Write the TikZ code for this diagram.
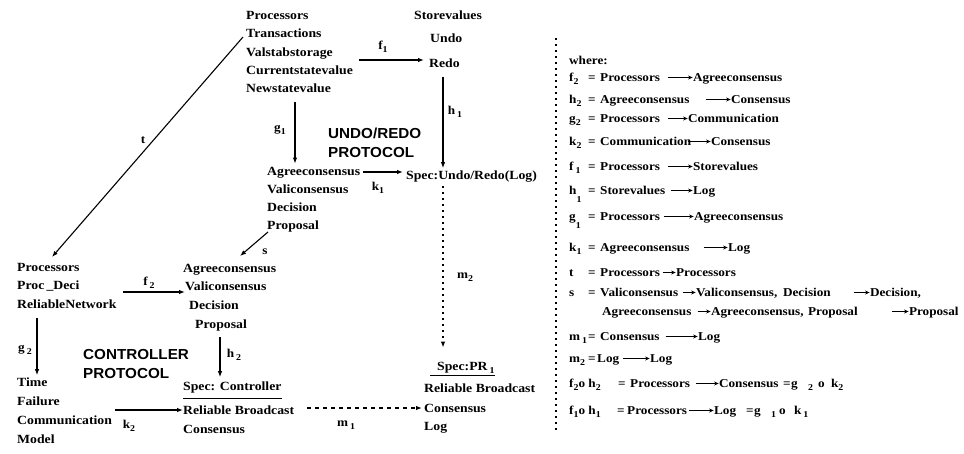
\documentclass[tikz,border=0pt]{standalone}
\usepackage{fontspec}
\setmainfont[FakeStretch=1.1]{Liberation Serif}
\newfontfamily\capsans[FakeStretch=1.05]{Liberation Sans}
\usetikzlibrary{arrows.meta}

% lowered index digits and inline mapping arrows
\newcommand{\sub}[1]{\raisebox{-3pt}{\fontsize{9}{9}\selectfont #1}}
\newcommand{\sublow}[1]{\raisebox{-8pt}{\fontsize{9}{9}\selectfont #1}}
\newcommand{\arr}[1]{\tikz[baseline=-3.5pt]\draw[line width=0.9pt,-{Stealth[length=4.5pt,width=4pt]}](0pt,0pt)--(#1pt,0pt);}
\newcommand{\bx}[2]{\makebox[#1pt][l]{#2}}

\begin{document}
\begin{tikzpicture}[x=1pt,y=-1pt,
  lbl/.style={anchor=base west,inner sep=0pt,font=\fontsize{12.5}{15}\selectfont\bfseries},
  eq/.style={anchor=base west,inner sep=0pt,font=\fontsize{12}{14}\selectfont\bfseries},
  proto/.style={anchor=base west,inner sep=0pt,font=\capsans\fontsize{14.5}{17}\selectfont\bfseries},
  tag/.style={anchor=center,inner sep=0pt,font=\fontsize{12}{14}\selectfont\bfseries},
  arr/.style={line width=1.1pt,-{Latex[length=6pt,width=4.5pt]}},
  dotarr/.style={arr,dash pattern=on 1.5pt off 4.5pt},
  dasharr/.style={arr,dash pattern=on 4pt off 4pt},
  sep/.style={line width=1.6pt,dash pattern=on 1.6pt off 4.4pt}]

\fill[white] (0,0) rectangle (964,453);
\useasboundingbox (0,0) rectangle (964,453);

% ---------- undo/redo protocol ----------
\node[lbl] (tP) at (246,19) {Processors};
\node[lbl] (tT) at (246,37) {Transactions};
\node[lbl] (tV) at (246,56) {Valstabstorage};
\node[lbl] (tC) at (246,74) {Currentstatevalue};
\node[lbl] (tN) at (246,92) {Newstatevalue};

\node[lbl] (sS) at (414,19) {Storevalues};
\node[lbl] (sU) at (430,42) {Undo};
\node[lbl] (sR) at (429,67) {Redo};

\node[lbl] (uA) at (267,175) {Agreeconsensus};
\node[lbl] (uV) at (267,193) {Valiconsensus};
\node[lbl] (uD) at (267,211) {Decision};
\node[lbl] (uP) at (267,229) {Proposal};

\node[lbl] (spU) at (406,179) {Spec:Undo/Redo(Log)};

\node[proto] (ur1) at (328,138) {UNDO/REDO};
\node[proto] (ur2) at (328,157) {PROTOCOL};

\coordinate (f1s) at (359,60);
\draw[arr,shorten >=5pt] (f1s) -- (f1s -| sR.west);
\node[tag] (lf1) at (383,47) {f\sub1};

\coordinate (g1s) at (295,102);
\draw[arr,shorten >=3pt] (g1s) -- (g1s |- uA.north);
\node[tag] (lg1) at (280,130) {g\sub1};

\coordinate (h1s) at (443,77);
\draw[arr,shorten >=2pt] (h1s) -- (h1s |- spU.north);
\node[tag] (lh1) at (455,112) {h\,\sub1};

\coordinate (k1s) at (363,172);
\draw[arr,shorten >=3pt] (k1s) -- (k1s -| spU.west);
\node[tag] (lk1) at (378,188) {k\sub1};

% ---------- controller protocol ----------
\node[lbl] (lP) at (17,271) {Processors};
\node[lbl] (lD) at (17,289) {Proc\,\_Deci};
\node[lbl] (lR) at (17,308) {ReliableNetwork};

\node[lbl] (mA) at (183,272) {Agreeconsensus};
\node[lbl] (mV) at (185,290) {Valiconsensus};
\node[lbl] (mD) at (189,309) {Decision};
\node[lbl] (mP) at (195,328) {Proposal};

\node[lbl] (bT) at (17,386) {Time};
\node[lbl] (bF) at (17,405) {Failure};
\node[lbl] (bC) at (17,424) {Communication};
\node[lbl] (bM) at (17,443) {Model};

\node[lbl] (sc) at (183,390) {Spec: Controller};
\draw[line width=1pt] ([yshift=-8pt]sc.base west) -- ([yshift=-8pt]sc.base east);
\node[lbl] (scR) at (183,414) {Reliable Broadcast};
\node[lbl] (scC) at (183,433) {Consensus};

\node[proto] (cp1) at (83,359) {CONTROLLER};
\node[proto] (cp2) at (83,378) {PROTOCOL};

\coordinate (f2s) at (123,292);
\draw[arr] (f2s) -- (f2s -| mV.west);
\node[tag] (lf2) at (149,283) {f\,\sub2};

\coordinate (g2s) at (37,318);
\draw[arr,shorten >=2pt] (g2s) -- (g2s |- bT.north);
\node[tag] (lg2) at (25,350) {g\,\sub2};

\coordinate (h2s) at (220,337);
\draw[arr,shorten >=4pt] (h2s) -- (h2s |- sc.north);
\node[tag] (lh2) at (234,355) {h\,\sub2};

\coordinate (k2s) at (115,410);
\draw[arr] (k2s) -- (k2s -| scR.west);
\node[tag] (lk2) at (129,426) {k\sub2};

% ---------- PR1 specification ----------
\node[lbl] (pr) at (437,370) {Spec:PR\,\sub1};
\draw[line width=1pt] ([xshift=-7pt,yshift=-5pt]pr.base west) -- ([yshift=-5pt]pr.base east);
\node[lbl] (prR) at (424,392) {Reliable Broadcast};
\node[lbl] (prC) at (424,412) {Consensus};
\node[lbl] (prL) at (424,430) {Log};

\coordinate (m1s) at (307,408);
\draw[dasharr,shorten >=2pt] (m1s) -- (m1s -| prC.west);
\node[tag] (lm1) at (346,425) {m\,\sub1};

\coordinate (m2s) at (443,186);
\draw[dotarr,shorten >=14pt] (m2s) -- (m2s |- pr.north);
\node[tag] (lm2) at (465,277) {m\sub2};

\coordinate (tEnd) at (52,257);
\draw[arr] ([xshift=-3pt]tT.base west) -- (tEnd);
\node[tag] (lt) at (143,140) {t};

\coordinate (sEnd) at (240,256);
\draw[arr] ([shift={(1,3)}]uP.base west) -- (sEnd);
\node[tag] (ls) at (265,252) {s};

% ---------- legend of mappings ----------
\coordinate (sepT) at (556,38);
\coordinate (sepB) at (556,432);
\draw[sep] (sepT) -- (sepB);

\node[eq] (w0) at (569,64) {where:};
\node[eq] (w1) at (569,81) {\bx{19}{f\sub2}\bx{12}{=}\bx{67}{Processors}\arr{25}Agreeconsensus};
\node[eq] (w2) at (569,103) {\bx{19}{h\sub2}\bx{12}{=}\bx{105}{Agreeconsensus}\arr{25}Consensus};
\node[eq] (w3) at (569,122) {\bx{19}{g\sub2}\bx{12}{=}\bx{67}{Processors}\arr{20}Communication};
\node[eq] (w4) at (569,145) {\bx{19}{k\sub2}\bx{12}{=}\bx{87}{Communication}\arr{23}Consensus};
\node[eq] (w5) at (569,170) {\bx{19}{f\,\sub1}\bx{12}{=}\bx{67}{Processors}\arr{25}Storevalues};
\node[eq] (w6) at (569,194) {\bx{19}{h\sublow1}\bx{12}{=}\bx{70}{Storevalues}\arr{22}Log};
\node[eq] (w7) at (569,220) {\bx{19}{g\sublow1}\bx{12}{=}\bx{63}{Processors}\arr{30}Agreeconsensus};
\node[eq] (w8) at (569,251) {\bx{19}{k\sub1}\bx{12}{=}\bx{103}{Agreeconsensus}\arr{24}Log};
\node[eq] (w9) at (569,276) {\bx{19}{t}\bx{12}{=}\bx{62}{Processors}\arr{13}Processors};
\node[eq] (w10) at (569,296) {\bx{19}{s}\bx{12}{=}\bx{82}{Valiconsensus}\arr{13}\bx{87}{Valiconsensus,}\bx{70}{Decision}\arr{16}Decision,};
\node[eq] (w11) at (602,315) {\bx{95}{Agreeconsensus}\arr{13}\bx{97}{Agreeconsensus,}\bx{83}{Proposal}\arr{17}Proposal};
\node[eq] (w12) at (569,340) {\bx{19}{m\,\sub1}\bx{12}{=}\bx{65}{Consensus}\arr{32}Log};
\node[eq] (w13) at (569,362) {\bx{19}{m\sub2}\bx{9}{=}\bx{25}{Log}\arr{27}Log};
\node[eq] (w14) at (569,387) {\bx{49}{f\sub2o h\sub2}\bx{12}{=}\bx{65}{Processors}\arr{23}\bx{64}{Consensus}\bx{8}{=}\bx{17}{g}\bx{10}{\sub2}\bx{13}{o}k\sub2};
\node[eq] (w15) at (569,414) {\bx{48}{f\sub1o h\sub1}\bx{10}{=}\bx{61}{Processors}\arr{25}\bx{32}{Log}\bx{8}{=}\bx{17}{g}\bx{8}{\sub1}\bx{15}{o}k\,\sub1};

\end{tikzpicture}
\end{document}
